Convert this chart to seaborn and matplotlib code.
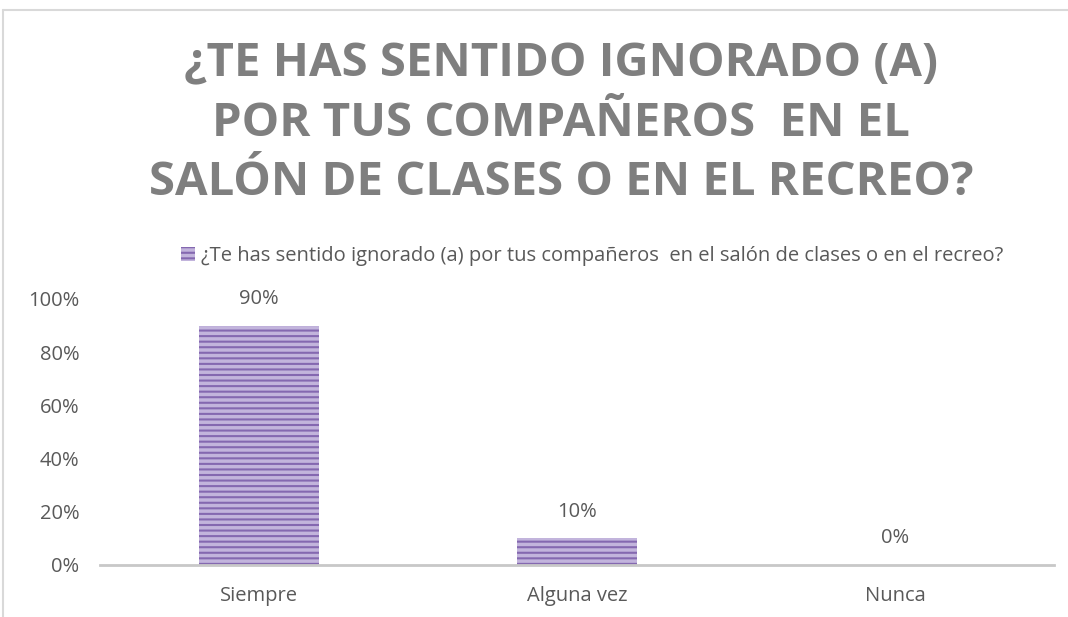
import matplotlib
matplotlib.use("Agg")
import matplotlib.pyplot as plt
import seaborn as sns
import pandas as pd
from matplotlib.lines import Line2D
from matplotlib.patches import Patch

categories = ["Siempre", "Alguna vez", "Nunca"]
values = [0.90, 0.10, 0.0]
value_labels = ["90%", "10%", "0%"]
y_ticks = [0, 0.2, 0.4, 0.6, 0.8, 1.0]
y_tick_labels = ["0%", "20%", "40%", "60%", "80%", "100%"]
series_name = "¿Te has sentido ignorado (a) por tus compañeros  en el salón de clases o en el recreo?"
title_lines = ["¿TE HAS SENTIDO IGNORADO (A)", "POR TUS COMPAÑEROS  EN EL", "SALÓN DE CLASES O EN EL RECREO?"]

sns.set_theme(style="white")
plt.rcParams['font.family'] = ['Open Sans', 'DejaVu Sans']
plt.rcParams['hatch.linewidth'] = 1.5
plt.rcParams['hatch.color'] = '#8468b0'

text_col = '#595959'
fs = 14.5
df = pd.DataFrame({"cat": categories, "val": values})

fig = plt.figure(figsize=(10.68, 6.17), dpi=100)
ax = fig.add_axes([100/1068, 1-565/617, 954/1068, 266/617])

sns.barplot(data=df, x="cat", y="val", color='#c2b4dc', width=0.377, ax=ax,
            saturation=1, edgecolor='none')
for p in ax.patches:
    p.set_hatch('---')
    p.set_edgecolor('#8468b0')
    p.set_linewidth(0)

ax.set_xlim(-0.5, 2.5)
ax.set_ylim(0, 1.0)
ax.set_yticks(y_ticks)
ax.set_yticklabels(y_tick_labels)
ax.set_xlabel("")
ax.set_ylabel("")
ax.tick_params(axis='y', length=0, pad=15, labelsize=fs, labelcolor=text_col)
ax.tick_params(axis='x', length=0, pad=15, labelsize=fs, labelcolor=text_col)
for s in ['top', 'right', 'left']:
    ax.spines[s].set_visible(False)
ax.spines['bottom'].set_color('#c8c8c8')
ax.spines['bottom'].set_linewidth(2)

for i, (v, lab) in enumerate(zip(values, value_labels)):
    ax.annotate(lab, xy=(i, v), xytext=(0, 12), textcoords='offset points',
                ha='center', va='bottom', fontsize=fs, color=text_col)

handle = Patch(facecolor='#c2b4dc', hatch='---', edgecolor='#8468b0', linewidth=0)
fig.legend([handle], [series_name], loc='center', bbox_to_anchor=(592/1068, 1-256/617),
           frameon=False, fontsize=fs, handlelength=0.7, handleheight=0.7,
           handletextpad=0.3, labelcolor=text_col)

title_y = [1-76/617, 1-136/617, 1-195/617]
for line, yy in zip(title_lines, title_y):
    fig.text(561/1068, yy, line, ha='center', va='baseline', fontsize=34,
             fontweight='bold', color='#7f7f7f')

# chart area border
fig.add_artist(Line2D([3/1068, 3/1068], [0, 1-10/617], transform=fig.transFigure,
                      color='#d9d9d9', linewidth=1.5))
fig.add_artist(Line2D([3/1068, 1], [1-10/617, 1-10/617], transform=fig.transFigure,
                      color='#d9d9d9', linewidth=1.5))

fig.savefig("out.png", dpi=100, facecolor='white')
